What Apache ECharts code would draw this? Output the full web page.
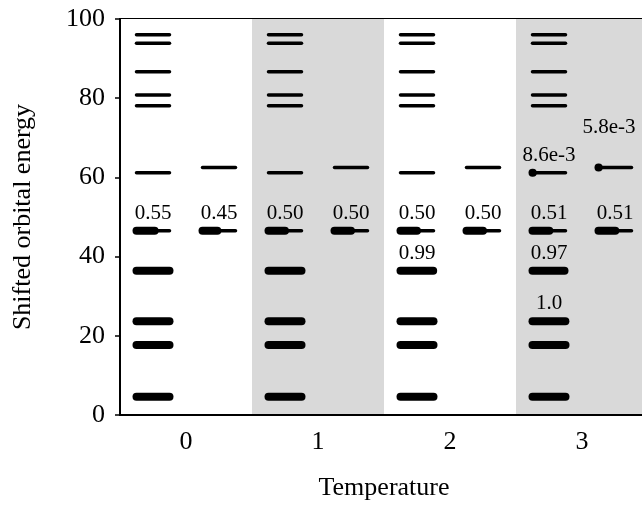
<!DOCTYPE html>
<html>
<head>
<meta charset="utf-8">
<script src="https://cdn.jsdelivr.net/npm/echarts@6/dist/echarts.min.js"></script>
<style>
  html, body { margin: 0; padding: 0; background: #fff; overflow: hidden; }
  /* the plot frame runs a few pixels past the right edge of the window */
  #chart { width: 648px; height: 508px; }
</style>
</head>
<body>
<div id="chart"></div>
<script>
// Temperatures along the x axis
const temperatures = ['0', '1', '2', '3'];

// Orbital energies: left column (11 levels) and right column (2 levels)
const leftEnergies = [96.0, 93.9, 86.7, 80.8, 78.1, 61.2, 46.5, 36.4, 23.7, 17.7, 4.6];
const rightEnergies = [62.5, 46.5];

// Occupations per temperature, in the same order as the energies above
const leftOccupation = [
  [0, 0, 0, 0, 0, 0,      0.55, 1,    1,     1, 1],
  [0, 0, 0, 0, 0, 0,      0.50, 1,    1,     1, 1],
  [0, 0, 0, 0, 0, 0,      0.50, 0.99, 1,     1, 1],
  [0, 0, 0, 0, 0, 0.0086, 0.51, 0.97, 0.996, 1, 1]
];
const rightOccupation = [
  [0,      0.45],
  [0,      0.50],
  [0,      0.50],
  [0.0058, 0.51]
];

// Label placement tweaks: [temperature index, column, level index, extra lift px, x shift px]
const liftedLabels = [[3, 1, 0, 23, -6]];

const FONT = '"Liberation Serif", "Times New Roman", serif';

function formatOcc(v) {
  if (v < 0.01) return v.toExponential(1);
  const s = v.toFixed(2);
  return s === '1.00' ? '1.0' : s;
}

// Build level records: [category, energy, column, occupation, levelIndex]
const levels = [];
temperatures.forEach((t, ti) => {
  leftEnergies.forEach((e, li) => levels.push([ti, e, 0, leftOccupation[ti][li], li]));
  rightEnergies.forEach((e, li) => levels.push([ti, e, 1, rightOccupation[ti][li], li]));
});

function renderLevel(params, api) {
  const cat = api.value(0);
  const energy = api.value(1);
  const side = api.value(2);
  const occ = api.value(3);
  const idx = api.value(4);
  const p = api.coord([cat, energy]);
  const band = api.size([1, 0])[0];
  const xc = p[0] + (side ? 0.25 : -0.25) * band;
  const half = 0.125 * band;
  const x0 = xc - half, x1 = xc + half;
  const y = p[1];
  const children = [{
    type: 'line',
    shape: { x1: x0, y1: y, x2: x1, y2: y },
    style: { stroke: '#000', lineWidth: 3.5, lineCap: 'round' }
  }];
  if (occ > 0) {
    children.push({
      type: 'line',
      shape: { x1: x0, y1: y, x2: x0 + occ * (x1 - x0), y2: y },
      style: { stroke: '#000', lineWidth: 8, lineCap: 'round' }
    });
  }
  if (occ > 0 && occ < 1) {
    let lift = 17.5, shift = 0;
    liftedLabels.forEach(l => {
      if (l[0] === cat && l[1] === side && l[2] === idx) { lift += l[3]; shift += l[4]; }
    });
    children.push({
      type: 'text',
      x: xc + shift,
      y: y - lift,
      style: {
        text: formatOcc(occ),
        fill: '#000',
        font: '21px ' + FONT,
        align: 'center',
        verticalAlign: 'middle'
      }
    });
  }
  return { type: 'group', children };
}

const chart = echarts.init(document.getElementById('chart'), null, { renderer: 'canvas' });
chart.setOption({
  animation: false,
  backgroundColor: '#fff',
  grid: {
    left: 120, top: 19, right: 0, bottom: 93,
    show: true, borderColor: '#000', borderWidth: 2, backgroundColor: 'transparent'
  },
  xAxis: {
    type: 'category',
    data: temperatures,
    boundaryGap: true,
    name: 'Temperature',
    nameLocation: 'middle',
    nameGap: 60,
    nameTextStyle: { fontFamily: FONT, fontSize: 26, color: '#000' },
    axisLine: { lineStyle: { color: '#000', width: 2 } },
    axisTick: { show: false },
    axisLabel: { fontFamily: FONT, fontSize: 26, color: '#000', margin: 14 },
    splitArea: { show: true, areaStyle: { color: ['#ffffff', '#d9d9d9'] } },
    splitLine: { show: false }
  },
  yAxis: {
    type: 'value',
    min: 0, max: 100, interval: 20,
    name: 'Shifted orbital energy',
    nameLocation: 'middle',
    nameGap: 84,
    nameTextStyle: { fontFamily: FONT, fontSize: 26, color: '#000' },
    axisLine: { show: true, lineStyle: { color: '#000', width: 2 } },
    axisTick: { show: true, length: 5, lineStyle: { color: '#000', width: 1.5 } },
    axisLabel: { fontFamily: FONT, fontSize: 26, color: '#000', margin: 15 },
    splitLine: { show: false }
  },
  series: [{
    type: 'custom',
    renderItem: renderLevel,
    data: levels,
    encode: { x: 0, y: 1 },
    clip: false
  }]
});
</script>
</body>
</html>
